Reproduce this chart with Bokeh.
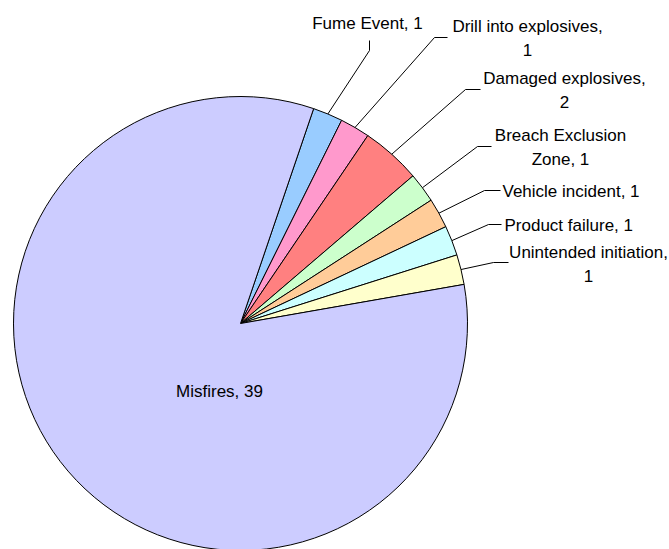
import math
from bokeh.plotting import figure
from bokeh.models import Range1d, ColumnDataSource
from bokeh.core.properties import value
from bokeh.embed import file_html
from bokeh.resources import INLINE

# ---- data ----
categories = ["Fume Event", "Drill into explosives", "Damaged explosives",
              "Breach Exclusion Zone", "Vehicle incident", "Product failure",
              "Unintended initiation", "Misfires"]
counts = [1, 1, 2, 1, 1, 1, 1, 39]
colors = ["#99CCFF", "#FF99CC", "#FF8080", "#CCFFCC", "#FFCC99", "#CCFFFF",
          "#FFFFCC", "#CCCCFF"]

# ---- layout (page pixel coords; y measured downward) ----
W, H = 669, 549
CX, CY, R = 240, 323, 227
START_DEG = 18.8         # first slice starts this many degrees clockwise from 12 o'clock
FONT = "17px"

def fy(y):  # page y -> data y
    return H - y

# per label: wrap mode, leader elbow, leader end, text anchor, align
label_layout = [
    dict(wrap=None, elbow=(369, 50), end=(369, 40), pos=(367, 23), align="center"),
    dict(wrap="comma", elbow=(434, 37), end=(447, 37), pos=(527, 38), align="center"),
    dict(wrap="comma", elbow=(465, 89), end=(480, 89), pos=(564, 90), align="center"),
    dict(wrap=2, elbow=(477, 146), end=(491, 146), pos=(560, 147), align="center"),
    dict(wrap=None, elbow=(484, 190), end=(500, 190), pos=(502, 191), align="left"),
    dict(wrap=None, elbow=(488, 224), end=(501, 224), pos=(504, 225), align="left"),
    dict(wrap="comma", elbow=(493, 262), end=(508, 262), pos=(588, 264), align="center"),
    None,  # Misfires: label inside
]
MISFIRE_POS = (219, 391)

total = sum(counts)
starts, ends, mids = [], [], []
cum = 0
for v in counts:
    a0 = START_DEG + cum * 360 / total
    a1 = a0 + v * 360 / total
    starts.append(math.radians(90 - a0))
    ends.append(math.radians(90 - a1))
    mids.append(math.radians(90 - (a0 + a1) / 2))
    cum += v

p = figure(width=W, height=H, output_backend="svg", toolbar_location=None,
           x_range=Range1d(0, W), y_range=Range1d(0, H),
           x_axis_location=None, y_axis_location=None,
           min_border=0, min_border_left=0, min_border_right=0,
           min_border_top=0, min_border_bottom=0, outline_line_color=None)
p.grid.visible = False
p.background_fill_color = "white"

src = ColumnDataSource(dict(start=starts, end=ends, color=colors, cat=categories, n=counts))
p.wedge(x=CX, y=fy(CY), radius=R, start_angle="start", end_angle="end",
        direction="clock", fill_color="color", line_color="black", line_width=1,
        source=src)

lx, ly = [], []
for cat, n, m, lay in zip(categories, counts, mids, label_layout):
    text = f"{cat}, {n}"
    if lay is None:
        p.text(x=[MISFIRE_POS[0]], y=[fy(MISFIRE_POS[1])], text=[text],
               text_font=value("Liberation Sans"), text_font_size=FONT,
               text_align="center", text_baseline="middle", text_color="black")
        continue
    if lay["wrap"] == "comma":
        text = text.replace(", ", ",\n")
    elif isinstance(lay["wrap"], int):
        words = text.split(" ")
        text = " ".join(words[:lay["wrap"]]) + "\n" + " ".join(words[lay["wrap"]:])
    sx = CX + R * math.cos(m)
    sy = CY - R * math.sin(m)
    lx.append([sx, lay["elbow"][0], lay["end"][0]])
    ly.append([fy(sy), fy(lay["elbow"][1]), fy(lay["end"][1])])
    p.text(x=[lay["pos"][0]], y=[fy(lay["pos"][1])], text=[text],
           text_font=value("Liberation Sans"), text_font_size=FONT,
           text_align=lay["align"], text_baseline="middle", text_color="black",
           text_line_height=1.3)

p.multi_line(xs=lx, ys=ly, line_color="black", line_width=1)

open("out.html", "w").write(file_html(p, INLINE))
